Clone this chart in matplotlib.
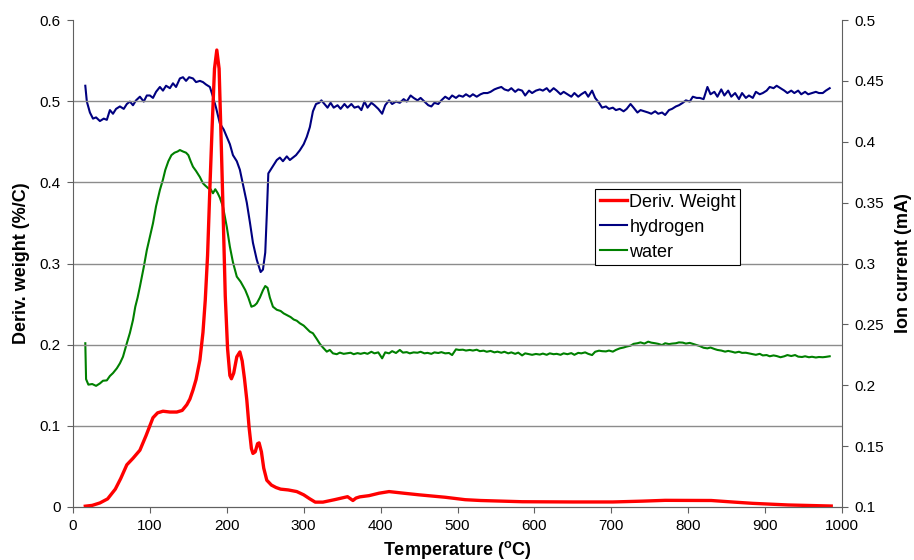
import matplotlib
matplotlib.use('Agg')
import matplotlib.pyplot as plt
from matplotlib.ticker import FuncFormatter

# deriv. weight (left axis)
dw_temp = [16, 25, 35, 45, 55, 62, 70, 78, 87, 95, 104, 110, 117, 126, 135, 142, 148, 152, 156, 160,
           165, 169, 172, 175, 178, 181, 184, 187, 190, 193, 195, 198, 201, 204, 206, 209, 213, 217, 220,
           223, 226, 229, 232, 234, 237, 240, 242, 245, 248, 252, 258, 264, 270, 280, 291, 300, 308, 315,
           325, 340, 357, 364, 368, 373, 385, 398, 411, 430, 450, 484, 510, 530, 584, 650, 702, 740, 770,
           830, 860, 884, 930, 986]
dw_vals = [0.001, 0.002, 0.005, 0.010, 0.022, 0.035, 0.052, 0.060, 0.070, 0.088, 0.110, 0.116, 0.118,
           0.117, 0.117, 0.119, 0.126, 0.133, 0.144, 0.157, 0.181, 0.215, 0.255, 0.310, 0.393, 0.470,
           0.540, 0.563, 0.540, 0.440, 0.370, 0.260, 0.195, 0.162, 0.158, 0.165, 0.185, 0.191, 0.180,
           0.158, 0.132, 0.098, 0.072, 0.066, 0.068, 0.078, 0.079, 0.068, 0.048, 0.033, 0.027, 0.024,
           0.022, 0.021, 0.019, 0.015, 0.010, 0.006, 0.006, 0.009, 0.0127, 0.008, 0.011, 0.0125, 0.014,
           0.017, 0.019, 0.017, 0.015, 0.012, 0.009, 0.008, 0.0065, 0.0062, 0.0062, 0.0072, 0.0082,
           0.0080, 0.006, 0.0045, 0.0025, 0.0012]

# hydrogen ion current (right axis)
h2_temp = [16, 18, 22, 26, 30, 35, 40, 44, 48, 52, 56, 61, 66, 70, 74, 78, 82, 87, 92, 96, 100, 104,
           108, 113, 117, 121, 126, 130, 134, 139, 143, 147, 151, 156, 160, 165, 169, 173, 178, 182, 186,
           191, 196, 200, 204, 208, 213, 217, 221, 226, 230, 234, 239, 244, 247, 250, 252, 254, 257, 260,
           265, 269, 273, 278, 282, 286, 290, 295, 300, 304, 308, 312, 316, 320, 323, 327, 331, 335, 339,
           344, 348, 353, 357, 362, 366, 371, 375, 379, 383, 388, 392, 397, 402, 406, 411, 415, 420, 425,
           430, 434, 439, 443, 448, 452, 457, 462, 466, 470, 475, 479, 484, 489, 493, 498, 502, 507, 511,
           516, 520, 525, 530, 534, 539, 543, 548, 552, 557, 561, 566, 570, 575, 579, 584, 588, 593, 597,
           602, 607, 611, 616, 620, 625, 629, 634, 638, 643, 648, 652, 657, 661, 666, 670, 675, 679, 684,
           688, 693, 697, 702, 706, 711, 716, 720, 725, 729, 734, 738, 743, 748, 752, 757, 761, 766, 770,
           775, 779, 784, 788, 793, 797, 802, 806, 811, 815, 820, 825, 829, 834, 838, 843, 847, 852, 856,
           861, 866, 870, 875, 879, 884, 888, 893, 897, 902, 906, 911, 915, 920, 925, 929, 934, 938, 943,
           947, 952, 956, 961, 966, 970, 975, 979, 984]
h2_vals = [0.446, 0.433, 0.424, 0.419, 0.420, 0.417, 0.419, 0.418, 0.426, 0.423, 0.427, 0.429, 0.427,
           0.431, 0.433, 0.430, 0.434, 0.437, 0.433, 0.438, 0.438, 0.436, 0.441, 0.445, 0.442, 0.446,
           0.444, 0.448, 0.445, 0.452, 0.453, 0.450, 0.453, 0.452, 0.449, 0.450, 0.449, 0.447, 0.445,
           0.437, 0.428, 0.415, 0.410, 0.404, 0.398, 0.389, 0.384, 0.377, 0.365, 0.350, 0.334, 0.317,
           0.303, 0.293, 0.295, 0.309, 0.340, 0.374, 0.377, 0.380, 0.385, 0.387, 0.384, 0.388, 0.385,
           0.387, 0.389, 0.393, 0.398, 0.404, 0.412, 0.425, 0.431, 0.432, 0.434, 0.431, 0.428, 0.432,
           0.428, 0.430, 0.427, 0.431, 0.428, 0.431, 0.428, 0.429, 0.426, 0.433, 0.428, 0.432, 0.430,
           0.427, 0.423, 0.430, 0.434, 0.431, 0.433, 0.432, 0.435, 0.433, 0.438, 0.436, 0.434, 0.436,
           0.433, 0.430, 0.429, 0.432, 0.431, 0.434, 0.437, 0.435, 0.438, 0.436, 0.438, 0.437, 0.439,
           0.437, 0.439, 0.437, 0.439, 0.440, 0.440, 0.441, 0.443, 0.444, 0.445, 0.443, 0.442, 0.444,
           0.441, 0.443, 0.442, 0.438, 0.442, 0.440, 0.442, 0.443, 0.442, 0.444, 0.441, 0.444, 0.442,
           0.439, 0.441, 0.439, 0.437, 0.440, 0.437, 0.439, 0.441, 0.437, 0.442, 0.436, 0.432, 0.428,
           0.429, 0.427, 0.428, 0.426, 0.427, 0.425, 0.427, 0.431, 0.428, 0.424, 0.426, 0.425, 0.424,
           0.423, 0.425, 0.423, 0.424, 0.422, 0.426, 0.427, 0.429, 0.430, 0.432, 0.434, 0.433, 0.437,
           0.436, 0.436, 0.435, 0.445, 0.439, 0.441, 0.437, 0.443, 0.438, 0.442, 0.437, 0.440, 0.435,
           0.440, 0.436, 0.438, 0.436, 0.441, 0.439, 0.440, 0.442, 0.445, 0.444, 0.446, 0.444, 0.442,
           0.440, 0.442, 0.440, 0.442, 0.439, 0.441, 0.439, 0.440, 0.441, 0.440, 0.440, 0.442, 0.444]

# water ion current (right axis)
h2o_temp = [16, 17, 20, 25, 30, 35, 39, 44, 48, 52, 57, 61, 65, 70, 74, 78, 81, 84, 87, 92, 96, 100,
            104, 108, 113, 117, 120, 124, 128, 132, 136, 139, 143, 147, 150, 153, 156, 160, 165, 169,
            172, 176, 179, 182, 185, 188, 191, 195, 200, 204, 208, 213, 218, 224, 228, 232, 236, 239,
            243, 247, 250, 253, 256, 260, 265, 270, 274, 278, 283, 287, 291, 295, 300, 304, 308, 312,
            317, 321, 325, 330, 334, 338, 343, 347, 352, 356, 361, 365, 370, 374, 379, 383, 388, 392,
            397, 402, 406, 411, 415, 420, 425, 429, 434, 438, 443, 448, 452, 457, 461, 466, 470, 475,
            479, 484, 489, 493, 498, 502, 507, 511, 516, 520, 525, 529, 534, 538, 543, 548, 552, 557,
            561, 566, 570, 575, 579, 584, 588, 593, 597, 602, 607, 611, 616, 620, 625, 629, 634, 638,
            643, 648, 652, 657, 661, 666, 670, 675, 679, 684, 688, 693, 697, 702, 706, 711, 716, 720,
            725, 729, 734, 738, 743, 748, 752, 757, 761, 766, 770, 775, 779, 784, 788, 793, 797, 802,
            806, 811, 815, 820, 825, 829, 834, 838, 843, 848, 852, 857, 861, 866, 870, 875, 879, 884,
            888, 893, 897, 902, 906, 911, 915, 920, 925, 929, 934, 939, 943, 948, 952, 957, 961, 966,
            970, 975, 979, 984]
h2o_vals = [0.2345, 0.205, 0.2005, 0.201, 0.1995, 0.2015, 0.2037, 0.204, 0.2076, 0.210, 0.2139, 0.218,
            0.2234, 0.2345, 0.243, 0.2536, 0.2645, 0.272, 0.281, 0.297, 0.311, 0.322, 0.333, 0.347,
            0.3604, 0.369, 0.3768, 0.384, 0.389, 0.391, 0.392, 0.3932, 0.392, 0.391, 0.389, 0.384,
            0.3795, 0.376, 0.371, 0.3659, 0.364, 0.3617, 0.361, 0.3577, 0.361, 0.358, 0.354, 0.3467,
            0.330, 0.3138, 0.301, 0.2892, 0.285, 0.2782, 0.272, 0.2645, 0.2655, 0.2673, 0.272, 0.278,
            0.2815, 0.280, 0.272, 0.2645, 0.262, 0.261, 0.259, 0.2577, 0.256, 0.254, 0.253, 0.2509,
            0.249, 0.2465, 0.244, 0.2427, 0.238, 0.234, 0.231, 0.2276, 0.229, 0.2262, 0.2255, 0.2268,
            0.2258, 0.2262, 0.2267, 0.2255, 0.2264, 0.2258, 0.2266, 0.2258, 0.2275, 0.2262, 0.2270,
            0.2221, 0.2270, 0.2262, 0.2280, 0.2265, 0.229, 0.2268, 0.2272, 0.2262, 0.2270, 0.2267,
            0.2275, 0.2262, 0.2266, 0.2258, 0.2270, 0.2265, 0.2272, 0.2262, 0.2265, 0.2248, 0.2295,
            0.229, 0.2292, 0.2285, 0.229, 0.2285, 0.2292, 0.228, 0.2284, 0.2275, 0.2282, 0.227, 0.2276,
            0.2267, 0.2275, 0.2262, 0.2270, 0.2258, 0.2268, 0.2245, 0.2262, 0.2255, 0.2250, 0.2257,
            0.2252, 0.2260, 0.2250, 0.2262, 0.2255, 0.2258, 0.2250, 0.2262, 0.2255, 0.2264, 0.2250,
            0.2266, 0.2262, 0.2270, 0.2258, 0.2248, 0.2275, 0.2284, 0.2280, 0.2278, 0.2285, 0.2276,
            0.2290, 0.2303, 0.2310, 0.2318, 0.2325, 0.2340, 0.2345, 0.2352, 0.2342, 0.2358, 0.2350,
            0.2345, 0.2340, 0.2330, 0.2345, 0.2338, 0.2342, 0.2345, 0.2352, 0.2350, 0.2342, 0.2348,
            0.2340, 0.2330, 0.2322, 0.2308, 0.2303, 0.2310, 0.2298, 0.2290, 0.2285, 0.2276, 0.2282,
            0.2275, 0.2268, 0.2275, 0.2266, 0.2267, 0.2262, 0.2255, 0.2250, 0.2258, 0.2245, 0.2248,
            0.2238, 0.2245, 0.2240, 0.223, 0.2238, 0.2248, 0.2240, 0.2248, 0.2235, 0.2232, 0.2238,
            0.223, 0.2234, 0.2228, 0.2232, 0.2230, 0.2233, 0.2238]

x_ticks = list(range(0, 1001, 100))
left_ticks = [0, 0.1, 0.2, 0.3, 0.4, 0.5, 0.6]
right_ticks = [0.1, 0.15, 0.2, 0.25, 0.3, 0.35, 0.4, 0.45, 0.5]

plt.rcParams['font.family'] = ['Liberation Sans', 'DejaVu Sans']
plt.rcParams['mathtext.fontset'] = 'custom'
plt.rcParams['mathtext.rm'] = 'Liberation Sans'
plt.rcParams['mathtext.bf'] = 'Liberation Sans:bold'

spine_col = '#606060'
fig = plt.figure(figsize=(9.14, 5.6), dpi=100)
ax = fig.add_axes([73 / 914, 1 - 507 / 560, 769 / 914, 487 / 560])
ax2 = ax.twinx()
ax.set_zorder(ax2.get_zorder() + 1)
ax.patch.set_visible(False)

l2, = ax2.plot(h2_temp, h2_vals, color='#000080', lw=1.5, label='hydrogen')
l3, = ax2.plot(h2o_temp, h2o_vals, color='#008000', lw=1.5, label='water')
l1, = ax.plot(dw_temp, dw_vals, color='#ff0000', lw=2.4, label='Deriv. Weight')

ax.set_xlim(0, 1000)
ax.set_ylim(0, 0.6)
ax2.set_ylim(0.1, 0.5)
ax.set_xticks(x_ticks)
ax.set_yticks(left_ticks)
ax2.set_yticks(right_ticks)
fmt = FuncFormatter(lambda v, p: '%g' % v)
ax.yaxis.set_major_formatter(fmt)
ax2.yaxis.set_major_formatter(fmt)

for a in (ax, ax2):
    a.spines['top'].set_visible(False)
    for s in ('left', 'right', 'bottom'):
        a.spines[s].set_color(spine_col)
    a.tick_params(direction='out', length=4, color=spine_col, labelsize=11, pad=5)
ax2.spines['left'].set_visible(False)
ax.spines['right'].set_visible(False)

for v in left_ticks[1:-1]:
    ax.axhline(v, color='#8c8c8c', lw=1, zorder=0)

ax.set_xlabel(r'Temperature ($\mathbf{^o}$C)', fontsize=13, fontweight='bold', labelpad=4)
ax.set_ylabel('Deriv. weight (%/C)', fontsize=13, fontweight='bold', labelpad=7)
ax2.set_ylabel('Ion current (mA)', fontsize=13, fontweight='bold', labelpad=8)

leg = ax.legend(handles=[l1, l2, l3], loc='upper left', bbox_to_anchor=(0.679, 0.653),
                borderaxespad=0, fontsize=13, frameon=True, fancybox=False, handlelength=1.5,
                handletextpad=0.15, labelspacing=0.45, borderpad=0.25)
leg.get_frame().set_edgecolor('black')
leg.get_frame().set_linewidth(0.8)
leg.get_frame().set_alpha(1)

fig.savefig('out.png', dpi=100)
